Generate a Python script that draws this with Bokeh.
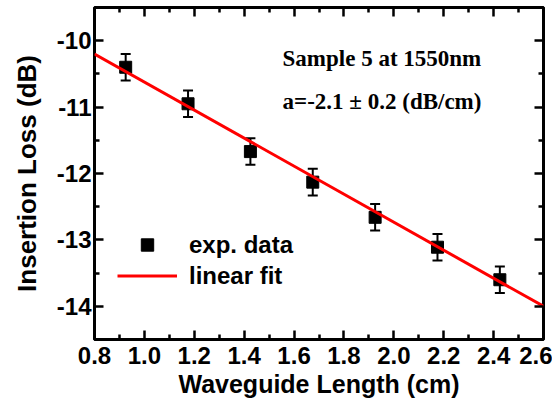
from bokeh.plotting import figure
from bokeh.models import (ColumnDataSource, Whisker, TeeHead, LinearAxis, Label,
                          FixedTicker, Range1d, NumeralTickFormatter, CustomLabelingPolicy)
from bokeh.embed import file_html
from bokeh.resources import INLINE

# data
length_cm = [0.925, 1.175, 1.425, 1.675, 1.925, 2.175, 2.425]
loss_db = [-10.40, -10.95, -11.67, -12.13, -12.66, -13.11, -13.60]
loss_err = [0.20, 0.20, 0.20, 0.20, 0.20, 0.20, 0.20]
fit_length = [0.8, 2.6]
fit_loss = [-10.20, -14.00]
x_ticks = [0.8, 1.0, 1.2, 1.4, 1.6, 1.8, 2.0, 2.2, 2.4, 2.6]
x_minor = [0.9, 1.1, 1.3, 1.5, 1.7, 1.9, 2.1, 2.3, 2.5]
y_ticks = [-14, -13, -12, -11, -10]
y_minor = [-14.5, -13.5, -12.5, -11.5, -10.5, -9.5]
note_1 = "Sample 5 at 1550nm"
note_2 = "a=-2.1 \u00b1 0.2 (dB/cm)"

src = ColumnDataSource(dict(
    x=length_cm, y=loss_db,
    upper=[v + e for v, e in zip(loss_db, loss_err)],
    lower=[v - e for v, e in zip(loss_db, loss_err)],
))

p = figure(width=552, height=400, x_range=Range1d(0.8, 2.6), y_range=Range1d(-14.5, -9.5),
           output_backend="svg", toolbar_location=None,
           min_border_left=94, min_border_right=9, min_border_top=7, min_border_bottom=59)
p.grid.visible = False
p.outline_line_color = "black"
p.outline_line_width = 3
p.background_fill_color = "white"
p.border_fill_color = "white"

FONT = "Liberation Sans"

p.add_layout(LinearAxis(), "above")
p.add_layout(LinearAxis(), "right")

no_labels = CustomLabelingPolicy(code="""
for (let i = 0; i < indices.size; i++) { indices.unset(i) }
return indices
""")


def style(ax, ticks, minor, show_labels, fmt=None):
    ax.ticker = FixedTicker(ticks=ticks, minor_ticks=minor)
    ax.axis_line_color = None
    ax.major_tick_in = 9
    ax.major_tick_out = 0
    ax.minor_tick_in = 5
    ax.minor_tick_out = 0
    ax.major_tick_line_width = 2.5
    ax.minor_tick_line_width = 2.5
    ax.major_tick_line_color = "black"
    ax.minor_tick_line_color = "black"
    if show_labels:
        ax.formatter = fmt
        ax.major_label_text_font = FONT
        ax.major_label_text_font_style = "bold"
        ax.major_label_text_font_size = "24px"
        ax.major_label_text_color = "black"
        ax.major_label_standoff = 7
        ax.axis_label_text_font = FONT
        ax.axis_label_text_font_style = "bold"
        ax.axis_label_text_color = "black"
        ax.axis_label_standoff = 3
    else:
        ax.major_label_policy = no_labels
        ax.major_label_text_font_size = "0px"
        ax.major_label_standoff = 0
        ax.axis_label = None
        ax.axis_label_standoff = 0


style(p.below[0], x_ticks, x_minor, True, NumeralTickFormatter(format="0.0"))
style(p.left[0], y_ticks, y_minor, True, NumeralTickFormatter(format="0"))
style(p.above[0], x_ticks, x_minor, False)
style(p.right[0], y_ticks, y_minor, False)
p.below[0].axis_label = "Waveguide Length (cm)"
p.below[0].axis_label_text_font_size = "25px"
p.left[0].axis_label = "Insertion Loss (dB)"
p.left[0].axis_label_text_font_size = "26px"
p.left[0].major_label_standoff = 3
p.left[0].axis_label_standoff = 12

whisk = Whisker(base="x", upper="upper", lower="lower", source=src,
                line_color="black", line_width=2,
                upper_head=TeeHead(size=10, line_width=2, line_color="black"),
                lower_head=TeeHead(size=10, line_width=2, line_color="black"))
p.add_layout(whisk)

p.scatter("x", "y", source=src, marker="square", size=12, color="black",
          legend_label="exp. data")
p.line(fit_length, fit_loss, line_color="#ff0000", line_width=3, legend_label="linear fit")

leg = p.legend[0]
leg.location = (23, 48)
leg.border_line_color = None
leg.background_fill_alpha = 0
leg.padding = 0
leg.margin = 0
leg.spacing = 0
leg.glyph_width = 60
leg.glyph_height = 31
leg.label_height = 31
leg.label_standoff = 12
leg.label_text_font = FONT
leg.label_text_font_style = "bold"
leg.label_text_font_size = "24px"
leg.label_text_color = "black"

for txt, yv in [(note_1, -10.27), (note_2, -10.92)]:
    p.add_layout(Label(x=1.554, y=yv, text=txt, text_font="Liberation Serif",
                       text_font_style="bold", text_font_size="23px",
                       text_color="black", text_baseline="alphabetic"))

open("out.html", "w").write(file_html(p, INLINE))
